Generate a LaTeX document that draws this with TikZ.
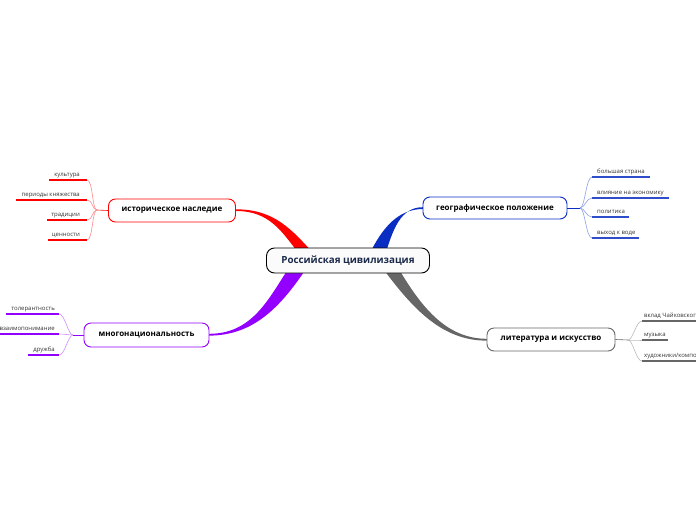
\documentclass[tikz,border=0pt]{standalone}
\usepackage{fontspec}
\setmainfont{Open Sans}
\usetikzlibrary{calc}
\definecolor{cred}{HTML}{FF0000}
\definecolor{cblue}{HTML}{0A2DC2}
\definecolor{cpurp}{HTML}{9400FF}
\definecolor{cgray}{HTML}{666666}
\definecolor{ctxt}{HTML}{1B2A4A}
\tikzset{
  mainbox/.style={draw, rounded corners=7pt, line width=0.9pt, fill=white, inner sep=0pt, font=\fontsize{8}{9}\selectfont\bfseries, text=black},
  centerbox/.style={draw=black, rounded corners=8pt, line width=0.9pt, fill=gray!3, inner sep=0pt, font=\fontsize{9.8}{11}\selectfont\bfseries, text=ctxt},
  subl/.style={font=\fontsize{6}{7}\selectfont, text=black!80, inner sep=0pt, anchor=base east},
  subr/.style={font=\fontsize{6}{7}\selectfont, text=black!80, inner sep=0pt, anchor=base west},
  uline/.style={line width=1.6pt},
  twig/.style={line width=0.6pt},
}
\begin{document}
\begin{tikzpicture}[x=1pt,y=-1pt]
\useasboundingbox (0,0) rectangle (696,520);
\clip (0,0) rectangle (696,520);
% tapered main branches
\fill[cred] (236,209.3) .. controls (275,209.3) and (292,230) .. (315,255) -- (300,255) .. controls (282,232) and (270,211) .. (236,211) -- cycle;
\fill[cblue] (423,207.2) .. controls (400,207.2) and (393,230) .. (385,255) -- (369,255) .. controls (382,228) and (398,209) .. (423,209) -- cycle;
\fill[cpurp] (209,333.8) .. controls (252,333.8) and (268,300) .. (290,266) -- (308,266) .. controls (282,305) and (255,335.6) .. (209,335.6) -- cycle;
\fill[cgray] (397,266) .. controls (420,305) and (445,338.8) .. (487,338.8) -- (487,340.6) .. controls (440,341) and (410,305) .. (381,266) -- cycle;
% nodes
\node[centerbox, minimum width=163pt, minimum height=25pt] (c) at (348,260.5) {Российская цивилизация};
\node[mainbox, draw=cred, minimum width=127pt, minimum height=23pt] (h) at (172,210.5) {историческое наследие};
\node[mainbox, draw=cblue, minimum width=144pt, minimum height=22pt] (g) at (495,208) {географическое положение};
\node[mainbox, draw=cpurp, minimum width=125pt, minimum height=24pt] (m) at (146.5,335) {многонациональность};
\node[mainbox, draw=cgray, minimum width=128pt, minimum height=23pt] (l) at (551,339.5) {литература и искусство};
% --- historical heritage
\coordinate (hb) at (97,210);
\draw[twig, cred] (h.west) -- (hb);
\foreach \n/\y/\xl/\t in {h1/180/49/культура, h2/200/16/периоды княжества, h3/220/47/традиции, h4/240/48/ценности}{
  \coordinate (\n r) at (87,\y);
  \coordinate (\n l) at (\xl,\y);
  \draw[twig, cred!45] (hb) .. controls ($(hb)+(-5,0)$) and ($(\n r)+(6,0)$) .. (\n r);
  \draw[uline, cred] (\n l) -- (\n r);
  \node[subl] (\n) at ($(\n r)+(-7,-4)$) {\t};
}
% --- geographic position
\coordinate (gb) at (580,208);
\draw[twig, cblue] (g.east) -- (gb);
\foreach \n/\y/\xr/\t in {g1/177/650/большая страна, g2/198/669/влияние на экономику, g3/217/629/политика, g4/238/639/выход к воде}{
  \coordinate (\n l) at (592,\y);
  \coordinate (\n r) at (\xr,\y);
  \draw[twig, cblue!45] (gb) .. controls ($(gb)+(5,0)$) and ($(\n l)+(-6,0)$) .. (\n l);
  \draw[uline, cblue!85] (\n l) -- (\n r);
  \node[subr] (\n) at ($(\n l)+(5,-4)$) {\t};
}
% --- multinationality
\coordinate (mb) at (73,335);
\draw[twig, cpurp] (m.west) -- (mb);
\foreach \n/\y/\xl/\t in {m1/314/6/толерантность, m2/334/-10/взаимопонимание, m3/355/28/дружба}{
  \coordinate (\n r) at (59,\y);
  \coordinate (\n l) at (\xl,\y);
  \draw[twig, cpurp!45] (mb) .. controls ($(mb)+(-5,0)$) and ($(\n r)+(6,0)$) .. (\n r);
  \draw[uline, cpurp] (\n l) -- (\n r);
  \node[subl] (\n) at ($(\n r)+(-4,-4)$) {\t};
}
% --- literature and art
\coordinate (lb) at (628,340);
\draw[twig, cgray] (l.east) -- (lb);
\foreach \n/\y/\xr/\t in {l1/321/720/{вклад Чайковского}, l2/340/668/{музыка}, l3/361/740/{художники/композиторы}}{
  \coordinate (\n l) at (642,\y);
  \coordinate (\n r) at (\xr,\y);
  \draw[twig, cgray!45] (lb) .. controls ($(lb)+(5,0)$) and ($(\n l)+(-6,0)$) .. (\n l);
  \draw[uline, cgray] (\n l) -- (\n r);
  \node[subr] (\n) at ($(\n l)+(2,-4)$) {\t};
}
\end{tikzpicture}
\end{document}
